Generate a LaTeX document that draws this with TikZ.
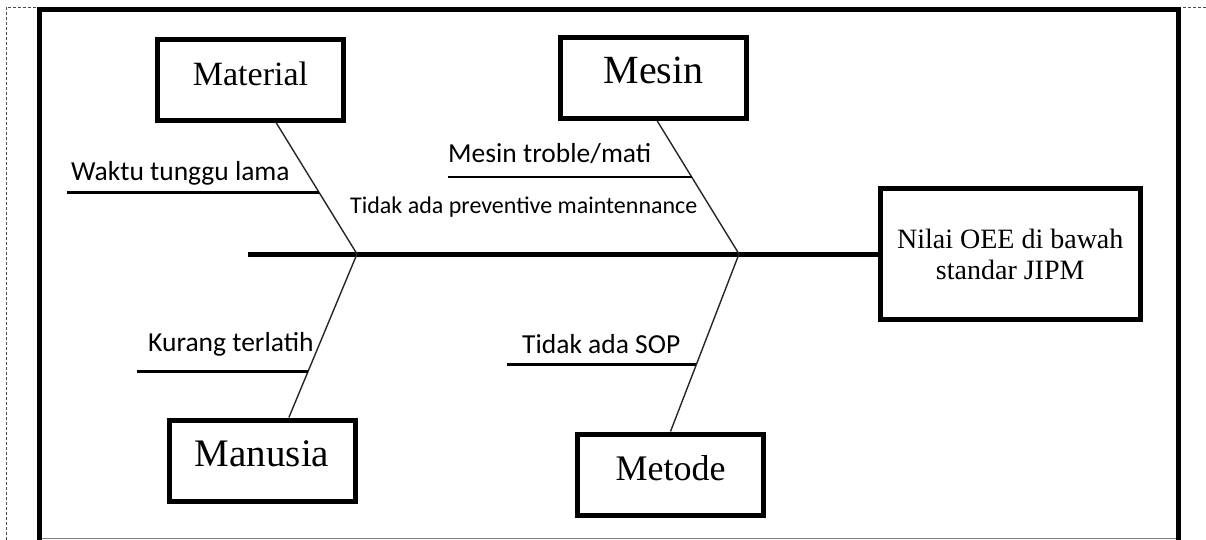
\documentclass[tikz,border=0pt]{standalone}
\usepackage{fontspec}
\setmainfont{Liberation Serif}
\setsansfont{Carlito}
\usetikzlibrary{calc, positioning}
\tikzstyle{box} = [draw, rectangle, line width=5pt, minimum width=186pt, minimum height=81pt, text height=28pt, text depth=17pt, inner sep=0pt]
\tikzstyle{effect} = [draw, rectangle, line width=5pt, minimum width=259.5pt, minimum height=131pt, align=center, font=\fontsize{28}{31}\selectfont]
\tikzstyle{spine} = [line width=5pt]
\tikzstyle{bone} = [line width=1.4pt, black!85]
\tikzstyle{twig} = [line width=3pt]
\tikzstyle{reason} = [font=\sffamily\fontsize{27.5}{27.5}\selectfont, anchor=base west, inner sep=0pt]

\begin{document}
\begin{tikzpicture}[x=1pt, y=-1pt]
    \clip (0,0) rectangle (1206,540);

    % Page.
    \draw [black!70, line width=0.8pt, dash pattern=on 3pt off 2pt] (6,540) -- (6,7) -- (1206,7);
    \draw [line width=5pt] (39.5,560) -- (39.5,10) -- (1178.5,10) -- (1178.5,560);
    \draw [gray, line width=1.5pt] (42,538.5) -- (1176,538.5);

    % Effect.
    \node (effect) [effect] at (1010.25,254) {Nilai OEE di bawah\\standar JIPM};

    % Causes.
    \foreach \n/\t/\x/\y/\s in {material/Material/250.5/80/34, mesin/Mesin/653.5/78/40,
                                manusia/Manusia/262/460.5/39, metode/Metode/670.5/474.5/36} {
        \node (\n) [box, font=\fontsize{\s}{\s}\selectfont] at (\x,\y) {\t};
    }

    % Spine and bones.
    \coordinate (tail) at (248,254);
    \coordinate (joint1) at (357,254);
    \coordinate (joint2) at (739,254);
    \draw [spine] (tail) -- (effect.west);
    \draw [bone] (material.-59) -- (joint1) -- (manusia.58);
    \draw [bone] (mesin.-85) -- (joint2) -- (metode.north);

    % Sub-causes.
    \coordinate (waktu1) at ($(material.-59)!0.534!(joint1)$);
    \coordinate (troble1) at ($(mesin.-85)!0.421!(joint2)$);
    \coordinate (kurang1) at ($(joint1)!0.72!(manusia.58)$);
    \coordinate (sop1) at ($(joint2)!0.624!(metode.north)$);
    \draw [twig] (waktu1) -- ++(-252,0) coordinate (waktu0);
    \draw [twig, line width=2pt] (troble1) -- ++(-244,0) coordinate (troble0);
    \draw [twig] (kurang1) -- ++(-171,0) coordinate (kurang0);
    \draw [twig] (sop1) -- ++(-189,0) coordinate (sop0);

    \node (waktu) [reason] at (71,180) {Waktu tunggu lama};
    \node (troble) [reason] at (448,163) {Mesin troble/mati};
    \node (preventive) [reason, font=\sffamily\fontsize{24}{24}\selectfont] at (350,213) {Tidak ada preventive maintennance};
    \node (kurang) [reason] at (148,351) {Kurang terlatih};
    \node (sop) [reason] at (522,353) {Tidak ada SOP};
\end{tikzpicture}
\end{document}
